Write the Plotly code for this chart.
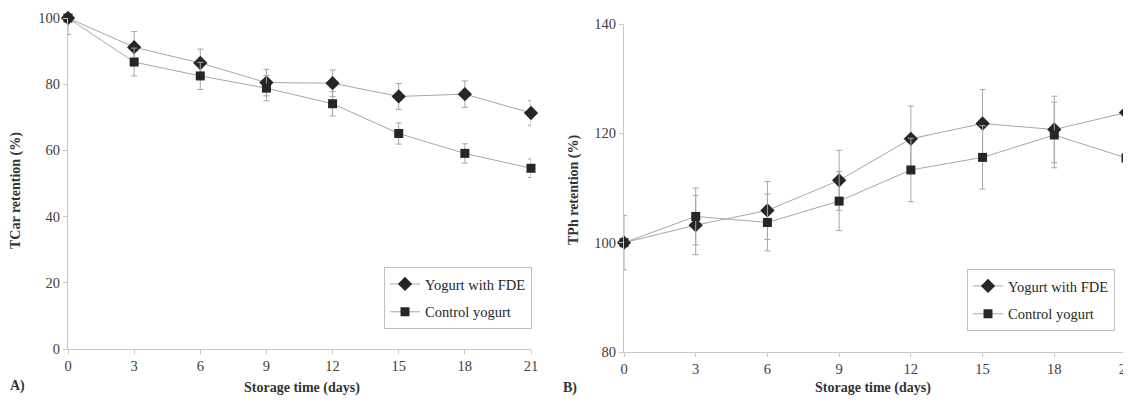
import plotly.graph_objects as go

days = [0, 3, 6, 9, 12, 15, 18, 21]
day_ticks = [0, 3, 6, 9, 12, 15, 18, 21]

# Panel A: TCar retention (%)
tcar_fde = [100, 91.2, 86.4, 80.5, 80.3, 76.3, 77.0, 71.3]
tcar_fde_err_plus = [0, 4.7, 4.2, 4.0, 4.0, 3.9, 4.0, 3.7]
tcar_fde_err_minus = [5, 4.7, 4.2, 4.0, 4.0, 3.9, 4.0, 3.7]
tcar_ctrl = [100, 86.7, 82.5, 78.8, 74.1, 65.1, 59.1, 54.6]
tcar_ctrl_err = [0, 4.2, 4.1, 3.8, 3.7, 3.2, 2.9, 2.8]

# Panel B: TPh retention (%)
tph_fde = [100, 103.2, 105.9, 111.4, 119.0, 121.8, 120.7, 123.8]
tph_fde_err = [5, 5.4, 5.3, 5.5, 6.0, 6.2, 6.1, 6.2]
tph_ctrl = [100, 104.8, 103.7, 107.6, 113.3, 115.6, 119.7, 115.5]
tph_ctrl_err = [0, 5.2, 5.2, 5.4, 5.8, 5.8, 6.0, 5.8]

names = ["Yogurt with FDE", "Control yogurt"]

W, H = 1131, 403
OFF = 8  # page body margin
FONT = "Liberation Serif"
LINE_C = "#a6a6a6"
MARK_C = "#262626"
ERR_C = "#a6a6a6"
AX_C = "#c8c8c8"
TXT_C = "#404040"


def px_x(p):
    return (p - OFF) / W


def px_y(p):
    return 1 - (p - OFF) / H


fig = go.Figure()


def add(x, y, ep, em, name, symbol, size, xa, ya, leg):
    fig.add_trace(go.Scatter(
        x=x, y=y, name=name, mode="lines+markers",
        line=dict(color=LINE_C, width=1),
        marker=dict(symbol=symbol, size=size, color=MARK_C),
        error_y=dict(type="data", symmetric=False, array=ep, arrayminus=em,
                     color=ERR_C, thickness=1, width=3),
        xaxis=xa, yaxis=ya, legend=leg, legendgroup=leg + name,
        cliponaxis=False,
    ))


add(days, tcar_fde, tcar_fde_err_plus, tcar_fde_err_minus, names[0], "diamond", 11, "x", "y", "legend")
add(days, tcar_ctrl, tcar_ctrl_err, tcar_ctrl_err, names[1], "square", 9, "x", "y", "legend")
add(days, tph_fde, tph_fde_err, tph_fde_err, names[0], "diamond", 11, "x2", "y2", "legend2")
add(days, tph_ctrl, tph_ctrl_err, tph_ctrl_err, names[1], "square", 9, "x2", "y2", "legend2")

axis_common = dict(
    showline=True, linecolor=AX_C, linewidth=1, showgrid=False, zeroline=False,
    ticks="outside", tickcolor=AX_C, ticklen=4, tickwidth=1, automargin=False,
    tickfont=dict(family=FONT, size=14.5, color=TXT_C),
)

legend_common = dict(
    bgcolor="white", bordercolor="#bfbfbf", borderwidth=1,
    font=dict(family=FONT, size=14.5, color="#262626"),
    xanchor="left", yanchor="top", tracegroupgap=6,
    itemwidth=30,
)

fig.update_layout(
    width=W, height=H, margin=dict(l=0, r=0, t=0, b=0, autoexpand=False),
    paper_bgcolor="white", plot_bgcolor="white",
    font=dict(family=FONT, color=TXT_C),
    xaxis=dict(domain=[px_x(68), px_x(531)], range=[0, 21], tickvals=day_ticks,
               anchor="y", **axis_common),
    yaxis=dict(domain=[px_y(349), px_y(18)], range=[0, 100], tickvals=[0, 20, 40, 60, 80, 100],
               anchor="x", **axis_common),
    xaxis2=dict(domain=[px_x(624), px_x(1126)], range=[0, 21], tickvals=day_ticks,
                anchor="y2", **axis_common),
    yaxis2=dict(domain=[px_y(352), px_y(24)], range=[80, 140], tickvals=[80, 100, 120, 140],
                anchor="x2", **axis_common),
    legend=dict(x=px_x(384), y=px_y(267), **legend_common),
    legend2=dict(x=px_x(967), y=px_y(269), **legend_common),
    showlegend=True,
)

title_font = dict(family=FONT, size=14, color="#333333")
ann = [
    dict(text="<b>Storage time (days)</b>", x=px_x(302), y=px_y(388)),
    dict(text="<b>Storage time (days)</b>", x=px_x(873), y=px_y(388)),
    dict(text="<b>A)</b>", x=px_x(17), y=px_y(386)),
    dict(text="<b>B)</b>", x=px_x(570), y=px_y(388)),
    dict(text="<b>TCar retention (%)</b>", x=px_x(16), y=px_y(191), textangle=-90),
    dict(text="<b>TPh retention (%)</b>", x=px_x(574), y=px_y(190), textangle=-90),
]
for a in ann:
    fig.add_annotation(xref="paper", yref="paper", showarrow=False,
                       xanchor="center", yanchor="middle", font=title_font, **a)

fig.write_html("out.html")
